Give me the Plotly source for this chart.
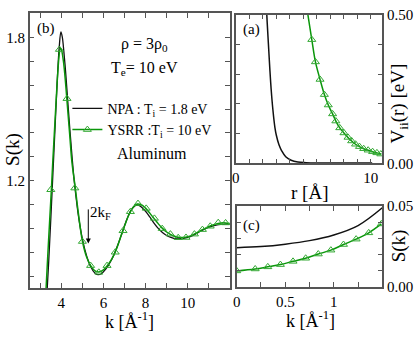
import plotly.graph_objects as go

# ---------------- Panel (b): S(k) ----------------
k_npa = [3.30, 3.40, 3.50, 3.60, 3.70, 3.80, 3.90, 3.98, 4.05, 4.10, 4.20, 4.30, 4.40, 4.50,
         4.60, 4.70, 4.80, 5.00, 5.20, 5.40, 5.60, 5.75, 5.90, 6.10, 6.30, 6.50, 6.70, 6.90,
         7.10, 7.30, 7.50, 7.65, 7.80, 8.00, 8.20, 8.40, 8.60, 8.80, 9.00, 9.20, 9.40, 9.60,
         9.80, 10.0, 10.2, 10.4, 10.6, 10.8, 11.0, 11.2, 11.4, 11.6, 11.8, 12.0]
s_npa = [0.70, 0.86, 1.04, 1.23, 1.42, 1.61, 1.76, 1.824, 1.80, 1.76, 1.66, 1.54, 1.42, 1.31,
         1.21, 1.13, 1.06, 0.955, 0.885, 0.838, 0.812, 0.806, 0.810, 0.828, 0.855, 0.890, 0.935, 0.985,
         1.035, 1.075, 1.095, 1.098, 1.090, 1.072, 1.048, 1.022, 1.000, 0.983, 0.970, 0.962, 0.957, 0.956,
         0.958, 0.962, 0.969, 0.978, 0.988, 0.997, 1.005, 1.011, 1.015, 1.017, 1.018, 1.018]

k_ysrr_line = [3.20, 3.28, 3.40, 3.53, 3.60, 3.70, 3.80, 3.90, 3.95, 4.00, 4.10, 4.20, 4.26, 4.40,
               4.50, 4.66, 4.80, 5.00, 5.20, 5.40, 5.60, 5.78, 6.00, 6.20, 6.40, 6.60, 6.80, 7.00,
               7.20, 7.40, 7.60, 7.80, 8.00, 8.20, 8.40, 8.60, 8.80, 9.00, 9.20, 9.40, 9.60, 9.80,
               10.0, 10.2, 10.4, 10.6, 10.8, 11.0, 11.2, 11.4, 11.6, 11.8, 12.0]
s_ysrr_line = [0.62, 0.757, 0.96, 1.167, 1.29, 1.45, 1.61, 1.73, 1.755, 1.75, 1.70, 1.61, 1.544, 1.39,
               1.28, 1.171, 1.07, 0.947, 0.880, 0.843, 0.822, 0.817, 0.826, 0.846, 0.872, 0.910, 0.960, 1.010,
               1.055, 1.088, 1.102, 1.099, 1.085, 1.064, 1.042, 1.020, 1.000, 0.985, 0.974, 0.966, 0.962, 0.962,
               0.965, 0.971, 0.980, 0.990, 0.999, 1.007, 1.014, 1.020, 1.023, 1.023, 1.021]

k_ysrr_pts = [3.50, 3.91, 4.27, 4.64, 5.00, 5.39, 5.78, 6.17, 6.56, 6.93, 7.28, 7.64, 8.03,
              8.42, 8.79, 9.18, 9.55, 9.92, 10.32, 10.70, 11.07, 11.45, 11.80]
s_ysrr_pts = [1.162, 1.75, 1.544, 1.169, 0.945, 0.844, 0.816, 0.844, 0.900, 0.990, 1.070, 1.104, 1.084,
              1.042, 0.999, 0.976, 0.961, 0.962, 0.976, 0.995, 1.009, 1.024, 1.023]

# ---------------- Panel (a): V_ii(r) ----------------
r_npa = [2.20, 2.25, 2.32, 2.42, 2.52, 2.62, 2.75, 2.90, 3.00, 3.20, 3.40, 3.70, 4.10, 4.60,
         5.20, 6.00, 8.00, 10.1]
v_npa = [0.62, 0.55, 0.48, 0.40, 0.32, 0.25, 0.18, 0.12, 0.095, 0.062, 0.042, 0.022, 0.010, 0.004,
         0.002, 0.001, 0.001, 0.001]

r_ysrr_line = [5.10, 5.34, 5.63, 5.90, 6.24, 6.56, 6.85, 7.17, 7.41, 7.70, 8.01, 8.31, 8.58, 8.87,
               9.16, 9.47, 9.80, 10.13, 10.45, 10.78]
v_ysrr_line = [0.57, 0.50, 0.416, 0.341, 0.282, 0.231, 0.196, 0.166, 0.142, 0.119, 0.102, 0.087, 0.075, 0.064,
               0.056, 0.049, 0.044, 0.039, 0.035, 0.031]

r_ysrr_pts = [5.63, 5.90, 6.24, 6.56, 6.85, 7.17, 7.41, 7.70, 8.01, 8.31, 8.58, 8.87,
              9.16, 9.47, 9.80, 10.13, 10.45, 10.74]
v_ysrr_pts = [0.416, 0.341, 0.282, 0.231, 0.196, 0.166, 0.142, 0.119, 0.102, 0.087, 0.075, 0.064,
              0.056, 0.049, 0.044, 0.039, 0.035, 0.031]

# ---------------- Panel (c): S(k) small k ----------------
kc_npa = [0.0, 0.25, 0.50, 0.75, 1.00, 1.25, 1.50]
sc_npa = [0.0243, 0.0250, 0.0265, 0.0287, 0.0322, 0.0380, 0.0490]

kc_ysrr = [0.0, 0.19, 0.32, 0.45, 0.58, 0.71, 0.84, 0.97, 1.10, 1.23, 1.36, 1.49]
sc_ysrr = [0.0100, 0.0112, 0.0125, 0.0139, 0.0159, 0.0178, 0.0204, 0.0228, 0.0263, 0.0296, 0.0335, 0.0390]

BLACK = "#111111"
GREEN_LINE = "#0a960a"
GREEN_MK = "#33a833"
FONT = "Liberation Serif"
W, H = 415, 337

fig = go.Figure()

# (b)
fig.add_trace(go.Scatter(x=k_npa, y=s_npa, mode="lines", line=dict(color=BLACK, width=1.3, shape="spline"),
                         name="NPA : T<sub>i</sub> = 1.8 eV", xaxis="x", yaxis="y", showlegend=True))
fig.add_trace(go.Scatter(x=[None], y=[None], mode="lines+markers",
                         line=dict(color=GREEN_LINE, width=1.5),
                         marker=dict(symbol="triangle-up-open", size=7, color=GREEN_MK, line=dict(width=1)),
                         name="YSRR :T<sub>i</sub> = 10 eV", xaxis="x", yaxis="y", showlegend=True))
fig.add_trace(go.Scatter(x=k_ysrr_line, y=s_ysrr_line, mode="lines",
                         line=dict(color=GREEN_LINE, width=1.5, shape="spline"),
                         xaxis="x", yaxis="y", showlegend=False))
fig.add_trace(go.Scatter(x=k_ysrr_pts, y=s_ysrr_pts, mode="markers",
                         marker=dict(symbol="triangle-up-open", size=7, color=GREEN_MK, line=dict(width=1)),
                         xaxis="x", yaxis="y", showlegend=False))

# (a)
fig.add_trace(go.Scatter(x=r_npa, y=v_npa, mode="lines", line=dict(color=BLACK, width=1.5, shape="spline"),
                         xaxis="x2", yaxis="y2", showlegend=False))
fig.add_trace(go.Scatter(x=r_ysrr_line, y=v_ysrr_line, mode="lines",
                         line=dict(color=GREEN_LINE, width=1.5, shape="spline"),
                         xaxis="x2", yaxis="y2", showlegend=False))
fig.add_trace(go.Scatter(x=r_ysrr_pts, y=v_ysrr_pts, mode="markers",
                         marker=dict(symbol="triangle-up-open", size=7, color=GREEN_MK, line=dict(width=1)),
                         xaxis="x2", yaxis="y2", showlegend=False))

# (c)
fig.add_trace(go.Scatter(x=kc_npa, y=sc_npa, mode="lines", line=dict(color=BLACK, width=1.5, shape="spline"),
                         xaxis="x3", yaxis="y3", showlegend=False))
fig.add_trace(go.Scatter(x=kc_ysrr, y=sc_ysrr, mode="lines+markers",
                         line=dict(color=GREEN_LINE, width=1.5, shape="spline"),
                         marker=dict(symbol="triangle-up-open", size=7, color=GREEN_MK, line=dict(width=1)),
                         xaxis="x3", yaxis="y3", showlegend=False))


def px_x(p):
    return p / W


def px_y(p):
    return 1 - p / H


ax_common = dict(showgrid=False, zeroline=False, showline=True, mirror="ticks", linecolor="#555555",
                 linewidth=1.5, ticks="inside", ticklen=5, tickcolor="#555555", tickwidth=1,
                 tickfont=dict(family=FONT, size=15, color="black"), autorange=False)

b_xt = [3, 4, 5, 6, 7, 8, 9, 10, 11, 12]
b_xl = ["", "4", "", "6", "", "8", "", "10", "", ""]
b_yt = [0.8, 0.9, 1.0, 1.1, 1.2, 1.3, 1.4, 1.5, 1.6, 1.7, 1.8]
b_yl = ["", "", "", "", "1.2", "", "", "", "", "", "1.8"]
a_xt = list(range(0, 12))
a_xl = ["0"] + [""] * 9 + ["10", ""]
a_yt = [0.0, 0.1, 0.2, 0.3, 0.4, 0.5]
a_yl = ["0.00", "", "", "", "", "0.50"]
c_xt = [0, 0.25, 0.5, 0.75, 1.0, 1.25, 1.5]
c_xl = ["0", "", "0.5", "", "1", "", ""]
c_yt = [0.0, 0.01, 0.02, 0.03, 0.04, 0.05]
c_yl = ["0.00", "", "", "", "", "0.05"]

fig.update_layout(
    width=W, height=H, margin=dict(l=0, r=0, t=0, b=0),
    paper_bgcolor="white", plot_bgcolor="white",
    font=dict(family=FONT, size=15, color="black"),
    xaxis=dict(domain=[px_x(26), px_x(228)], range=[2.5, 12], tickvals=b_xt, ticktext=b_xl,
               anchor="y", **ax_common),
    yaxis=dict(domain=[px_y(294), px_y(5)], range=[0.75, 1.904], tickvals=b_yt, ticktext=b_yl,
               anchor="x", **ax_common),
    xaxis2=dict(domain=[px_x(234), px_x(382)], range=[0, 10.85], tickvals=a_xt, ticktext=a_xl,
                anchor="y2", **ax_common),
    yaxis2=dict(domain=[px_y(163), px_y(7)], range=[0, 0.5], tickvals=a_yt, ticktext=a_yl,
                anchor="x2", side="right", **ax_common),
    xaxis3=dict(domain=[px_x(235), px_x(382)], range=[0, 1.5], tickvals=c_xt, ticktext=c_xl,
                anchor="y3", **ax_common),
    yaxis3=dict(domain=[px_y(293), px_y(208)], range=[0, 0.05], tickvals=c_yt, ticktext=c_yl,
                anchor="x3", side="right", **ax_common),
    legend=dict(x=px_x(64), y=px_y(89), xanchor="left", yanchor="top", bgcolor="rgba(0,0,0,0)",
                font=dict(family=FONT, size=14, color="black"), itemwidth=30, tracegroupgap=0),
    showlegend=True,
)


def ann(text, x, y, size=15, angle=0, xanchor="center"):
    return dict(text=text, x=px_x(x), y=px_y(y), xref="paper", yref="paper", showarrow=False,
                font=dict(family=FONT, size=size, color="black"), textangle=angle,
                xanchor=xanchor, yanchor="middle")


annotations = [
    ann("(b)", 42, 21, 15),
    ann("(a)", 250, 23, 15),
    ann("(c)", 250, 228, 15),
    ann("ρ = 3ρ<sub>0</sub>", 142, 38, 16),
    ann("T<sub>e</sub>= 10 eV", 142, 63, 16),
    ann("Aluminum", 149, 153, 16),
    ann("S(k)", 9, 148, 19, -90),
    ann("k [Å<sup>-1</sup>]", 127, 328, 18),
    ann("V<sub>ii</sub>(r) [eV]", 399, 100, 19, -90),
    ann("r [Å]", 308, 194, 19),
    ann("S(k)", 399, 250, 19, -90),
    ann("k [Å<sup>-1</sup>]", 309, 327, 18),
    dict(text="2k<sub>F</sub>", x=5.26, y=1.066, xref="x", yref="y", showarrow=False,
         xanchor="left", yanchor="middle", font=dict(family=FONT, size=15, color="black")),
    dict(text="", x=5.28, y=0.937, ax=5.28, ay=1.086, xref="x", yref="y", axref="x", ayref="y",
         showarrow=True, arrowhead=2, arrowsize=1, arrowwidth=1, arrowcolor="black"),
]
fig.update_layout(annotations=annotations)

fig.write_html("out.html", config={"displayModeBar": False},
               post_script="document.body.style.margin='0';document.body.style.overflow='hidden';")
